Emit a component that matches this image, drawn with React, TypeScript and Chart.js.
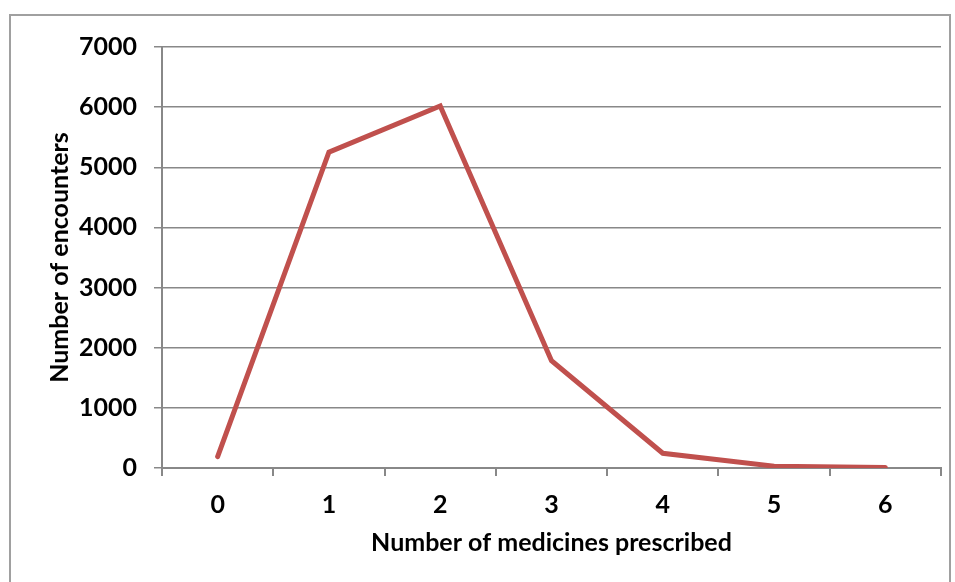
import React, { useEffect, useRef } from "react";
import { Chart, registerables } from "chart.js";

Chart.register(...registerables);

const categories = ["0", "1", "2", "3", "4", "5", "6"];
const encounters = [190, 5250, 6020, 1785, 245, 30, 8];
const yTitle = "Number of encounters";
const xTitle = "Number of medicines prescribed";

const FONT = "Lato, 'Open Sans', sans-serif";
const FS = 25;

export default function App() {
  const ref = useRef<HTMLCanvasElement | null>(null);

  useEffect(() => {
    if (!ref.current) return;
    const chart = new Chart(ref.current, {
      type: "line",
      data: {
        labels: categories,
        datasets: [
          {
            data: encounters,
            borderColor: "#C0504D",
            borderWidth: 5,
            pointRadius: 0,
            pointHoverRadius: 0,
            tension: 0,
            borderCapStyle: "round",
            borderJoinStyle: "miter",
            fill: false,
          },
        ],
      },
      options: {
        animation: false,
        responsive: true,
        maintainAspectRatio: false,
        layout: { padding: { left: 0, top: 47, right: 14, bottom: 24 } },
        plugins: { legend: { display: false }, tooltip: { enabled: false } },
        scales: {
          x: {
            offset: true,
            afterFit: (s: any) => {
              s.height = 90;
            },
            grid: {
              offset: true,
              drawOnChartArea: false,
              drawTicks: true,
              tickLength: 8,
              color: "#888",
              lineWidth: 2,
            },
            border: { color: "#888", width: 2 },
            ticks: {
              color: "#000",
              padding: 14,
              font: { family: FONT, size: FS, weight: "bold" },
            },
            title: {
              display: true,
              text: xTitle,
              color: "#000",
              padding: { top: 2, bottom: 0 },
              font: { family: FONT, size: FS, weight: "bold" },
            },
          },
          y: {
            min: 0,
            max: 7000,
            afterFit: (s: any) => {
              s.width = 162;
            },
            grid: {
              color: "#888",
              lineWidth: 1.5,
              tickLength: 8,
            },
            border: { color: "#888", width: 2 },
            ticks: {
              stepSize: 1000,
              color: "#000",
              padding: 17,
              callback: (v: any) => String(v),
              font: { family: FONT, size: FS, weight: "bold" },
            },
            title: {
              display: true,
              text: yTitle,
              color: "#000",
              padding: { top: 45, bottom: 0 },
              font: { family: FONT, size: FS, weight: "bold" },
            },
          },
        },
      },
    });
    return () => chart.destroy();
  }, []);

  return (
    <div>
      <div
        style={{
          position: "fixed",
          left: 9,
          top: 14,
          width: 942,
          height: 568,
          borderTop: "2px solid #a0a0a0",
          borderLeft: "2px solid #a0a0a0",
          borderRight: "2px solid #a0a0a0",
          boxSizing: "border-box",
        }}
      />
      <div style={{ position: "fixed", left: 0, top: 0, width: 955, height: 582 }}>
        <canvas ref={ref} />
      </div>
    </div>
  );
}
